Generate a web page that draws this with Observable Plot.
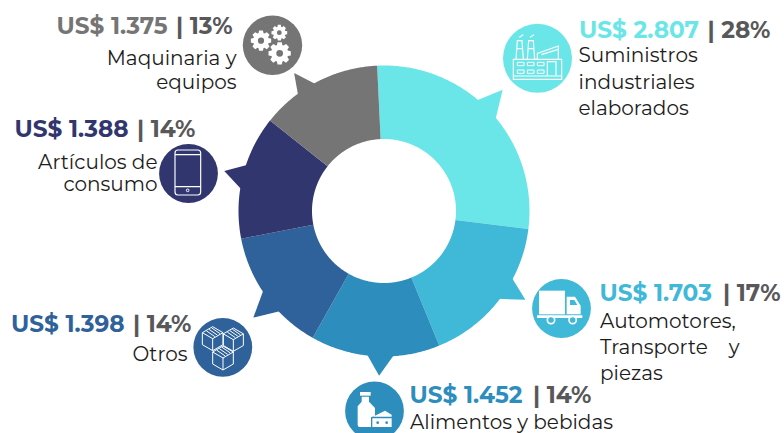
<!DOCTYPE html>
<html>
<head>
<meta charset="utf-8">
<script src="https://cdn.jsdelivr.net/npm/d3@7"></script>
<script src="https://cdn.jsdelivr.net/npm/@observablehq/plot@0.6"></script>
<style>
html,body{margin:0;padding:0;background:#fff;overflow:hidden}
svg{display:block}
</style>
</head>
<body>
<div id="chart"></div>
<script>
// --- chart values, clockwise from the top
const categories = ["Suministros industriales elaborados","Automotores, Transporte y piezas","Alimentos y bebidas","Otros","Artículos de consumo","Maquinaria y equipos"];
const amounts = [2807,1703,1452,1398,1388,1375];
const percents = [28,17,14,14,14,13];
const colors = ["#6ae6e8","#40b8d8","#2d8ebd","#2f619b","#31366e","#757575"];
const bodyLines = [
  ["Suministros","industriales","elaborados"],
  ["Automotores,","Transporte    y","piezas"],
  ["Alimentos y bebidas"],
  ["Otros"],
  ["Artículos de","consumo"],
  ["Maquinaria y","equipos"]
];

// --- layout
const cx = 383.5, cy = 210.5, rOuter = 145.5, rInner = 72, startDeg = -2.7;
const tipDeg = [44.4,122.1,181.7,230.8,284.1,326.9];
const tipR = [169.6,166.9,164.9,168.6,164.7,164.6];
const baseADeg = [39.7,117.3,187.2,237.1,289,332];
const baseBDeg = [51,127.9,175.6,225.7,278.2,323.2];
const iconX = [537,561,374,222.3,188,272];
const iconY = [57.8,308,410.5,346.8,173,44.7];
const iconR = [34.5,29.4,29.4,29.4,29.4,29.7];
const headX = [578.5,599,409,10.5,14,56];
const headY = [30,292.7,395,323.7,129,26];
const sepX = [707,722.5,532.5,132.5,136.5,175.5];
const bodyX = [578,599.5,409.5,187,157,236];
const bodyY = [[55,82,108],[321,347,373],[422],[354],[162,184],[58,82]];
const bodyAnchor = ["start","start","start","end","end","end"];

const rad = d => d * Math.PI / 180;
const polar = (deg, r) => ({x: cx + r * Math.sin(rad(deg)), y: cy - r * Math.cos(rad(deg))});

const pie = d3.pie().sort(null).startAngle(rad(startDeg)).endAngle(rad(startDeg + 360));
const arcs = pie(amounts);
const slices = arcs.flatMap((a, i) => {
  const a0 = a.startAngle * 180 / Math.PI, a1 = a.endAngle * 180 / Math.PI;
  const degs = d3.range(a0, a1, 0.5).concat(a1);
  return [...degs.map(d => polar(d, rOuter)), ...degs.reverse().map(d => polar(d, rInner))]
    .map(p => ({...p, key: categories[i], color: colors[i]}));
});
const pointers = categories.flatMap((c, i) =>
  [polar(baseADeg[i], 143), polar(tipDeg[i], tipR[i]), polar(baseBDeg[i], 143)]
    .map(p => ({...p, key: c, color: colors[i]})));

const icons = categories.map((c, i) => ({x: iconX[i], y: iconY[i], r: iconR[i], color: colors[i]}));
const heads = categories.map((c, i) => ({x: headX[i], y: headY[i], color: colors[i],
  text: "US$ " + (amounts[i] / 1000).toFixed(3)}));
const seps = categories.map((c, i) => ({x: sepX[i], y: headY[i], text: "| " + percents[i] + "%"}));
const bodies = bodyLines.flatMap((ls, i) => ls.map((t, j) => ({x: bodyX[i], y: bodyY[i][j], text: t, anchor: bodyAnchor[i]})));

// --- pictograms, drawn in 3x pixels around a crop origin
function gearPath(x, y, R, n) {
  const pts = [], r0 = R * 0.76, step = 2 * Math.PI / n;
  for (let k = 0; k < n; k++) {
    const t = k * step;
    [[-0.30, r0], [-0.17, R], [0.17, R], [0.30, r0]].forEach(([o, r]) =>
      pts.push([x + r * Math.cos(t + o * step * 1.4), y + r * Math.sin(t + o * step * 1.4)]));
  }
  const h = R * 0.3;
  return "M" + pts.map(p => p.join(",")).join("L") + "Z" +
    `M${x - h},${y}a${h},${h} 0 1,0 ${2 * h},0a${h},${h} 0 1,0 ${-2 * h},0Z`;
}
function cubePath(x, y, s) {
  const w = s * 0.86, h = s * 0.5;
  return `M${x},${y - s}L${x + w},${y - h}V${y + h}L${x},${y + s}L${x - w},${y + h}V${y - h}Z` +
    `M${x - w},${y - h}L${x},${y}L${x + w},${y - h}M${x},${y}V${y + s}` +
    `M${x - w * .6},${y - h * 1.3}L${x + w * .2},${y - h * .35}M${x - w * .35},${y - h * 1.55}L${x + w * .45},${y - h * .6}M${x - w * .1},${y - h * 1.8}L${x + w * .7},${y - h * .85}`;
}
function pictograms() {
  const g = d3.create("svg:g");
  const group = (ox, oy) => g.append("g").attr("transform", `translate(${ox},${oy}) scale(${1 / 3})`);
  const line = (p, d, w) => p.append("path").attr("d", d).attr("fill", "none").attr("stroke", "#fff").attr("stroke-width", w);
  const solid = (p, d, c = "#fff") => p.append("path").attr("d", d).attr("fill", c).attr("fill-rule", "evenodd");

  // factory
  const f = group(500, 20);
  line(f, "M40 118H185V178H40ZM40 168H185M142 168V125H168V168", 3.5);
  line(f, "M48 118L52 62H66L70 118M82 118L86 62H100L104 118M50 86H68M84 86H102", 3.5);
  line(f, "M58 52L70 44M90 52L102 44", 3.5);
  line(f, "M112 118V100L175 78V118M124 104L175 88", 3.5);
  line(f, "M52 127h20v10h-20zM82 127h20v10h-20zM112 127h20v10h-20zM52 150h20v10h-20zM82 150h20v10h-20zM112 150h20v10h-20z", 3);

  // truck
  const t = group(525, 275);
  solid(t, "M42 47H120V118H42Z");
  solid(t, "M125 65H150L167 92V118H125ZM135 75V90H157L148 75Z");
  solid(t, "M36 121H172V129H36Z");
  [78, 143].forEach(x => t.append("circle").attr("cx", x).attr("cy", 135).attr("r", 11)
    .attr("fill", colors[1]).attr("stroke", "#fff").attr("stroke-width", 5));

  // bottle and cheese
  const b = group(335, 373);
  solid(b, "M75 57H107V68H75Z");
  solid(b, "M80 71H102V86L120 105V128L108 133V162H74Q68 162 68 156V100L80 86Z");
  solid(b, "M112 132L150 113L170 125V131H112Z");
  solid(b, "M112 136H170V162H112ZM124 149a4,4 0 1,0 8,0a4,4 0 1,0 -8,0ZM151 149a4,4 0 1,0 8,0a4,4 0 1,0 -8,0Z");

  // boxes
  const x = group(188, 312);
  line(x, cubePath(74, 80, 36), 3);
  line(x, cubePath(136, 83, 35), 3);
  line(x, cubePath(105, 138, 36), 3);

  // phone
  const p = group(155, 140);
  p.append("rect").attr("x", 60).attr("y", 30).attr("width", 77).attr("height", 135).attr("rx", 9)
    .attr("fill", "none").attr("stroke", "#fff").attr("stroke-width", 3.5);
  line(p, "M60 44H137M60 140H137", 3.5);
  p.append("circle").attr("cx", 98).attr("cy", 151).attr("r", 4).attr("fill", "none").attr("stroke", "#fff").attr("stroke-width", 3);

  // gears
  const m = group(237, 10);
  solid(m, gearPath(72, 92, 31, 8));
  solid(m, gearPath(127, 68, 24, 8));
  solid(m, gearPath(128, 130, 34, 8));
  return g.node();
}

const font = "Montserrat, Inter, sans-serif";
const bodyText = anchor => Plot.text(bodies.filter(d => d.anchor === anchor), {x: "x", y: "y", text: "text", fill: "#1c1c20", textAnchor: anchor, fontSize: 20, fontWeight: 400, fontFamily: font});
const chart = Plot.plot({
  width: 784, height: 433,
  margin: 0,
  x: {domain: [0, 784], range: [0, 784], axis: null},
  y: {domain: [0, 433], range: [0, 433], axis: null},
  color: {type: "identity"},
  r: {type: "identity"},
  style: {background: "#fff"},
  marks: [
    Plot.line(slices, {x: "x", y: "y", z: "key", fill: "color", stroke: "none"}),
    Plot.line(pointers, {x: "x", y: "y", z: "key", fill: "color", stroke: "none"}),
    Plot.dot(icons, {x: "x", y: "y", r: "r", fill: "color", stroke: "none"}),
    pictograms,
    Plot.text(heads, {x: "x", y: "y", text: "text", fill: "color", textAnchor: "start", fontSize: 23.2, fontWeight: 700, fontFamily: font}),
    Plot.text(seps, {x: "x", y: "y", text: "text", fill: "#58585a", textAnchor: "start", fontSize: 23.2, fontWeight: 700, fontFamily: font}),
    bodyText("start"),
    bodyText("end")
  ]
});
document.getElementById("chart").append(chart);
</script>
</body>
</html>
